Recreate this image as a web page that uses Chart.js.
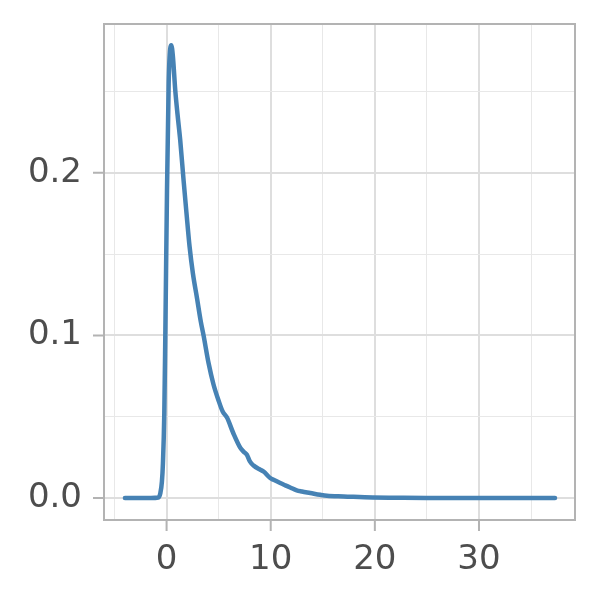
<!DOCTYPE html>
<html>
<head>
<meta charset="utf-8">
<script src="https://cdn.jsdelivr.net/npm/chart.js@4"></script>
<style>
  html, body { margin: 0; padding: 0; background: #ffffff; }
  #wrap { width: 600px; height: 600px; }
</style>
</head>
<body>
<div id="wrap"><canvas id="c" width="600" height="600"></canvas></div>
<script>
// Data
const xValues = [-4, -1.5, -0.8, -0.6, -0.45, -0.35, -0.22, -0.12, 0.04, 0.2, 0.35, 0.45, 0.6, 0.83, 1.05, 1.31, 1.63, 1.9, 2.21, 2.53, 2.92, 3.3, 3.55, 4.03, 4.5, 4.99, 5.4, 5.8, 6.4, 7.07, 7.4, 7.71, 8.0, 8.35, 9.0, 9.31, 9.95, 10.27, 10.91, 11.4, 11.87, 12.5, 13.0, 13.8, 14.75, 15.4, 17, 19.8, 22, 25, 30, 37.3];
const yValues = [0, 0, 0.0003, 0.003, 0.010, 0.0215, 0.052, 0.101, 0.189, 0.255, 0.2765, 0.2785, 0.272, 0.251, 0.236, 0.220, 0.1955, 0.176, 0.1545, 0.138, 0.123, 0.108, 0.100, 0.083, 0.070, 0.060, 0.053, 0.0495, 0.040, 0.031, 0.0285, 0.0266, 0.0225, 0.020, 0.0174, 0.0163, 0.0123, 0.0112, 0.0092, 0.0078, 0.0065, 0.0047, 0.004, 0.0031, 0.002, 0.0014, 0.001, 0.0003, 0.0002, 0.0001, 0.00005, 0];
const xTickValues = [-5, 0, 5, 10, 15, 20, 25, 30, 35];
const xMajorTicks = [0, 10, 20, 30];
const yTickValues = [0, 0.05, 0.1, 0.15, 0.2, 0.25];
const yMajorTicks = [0, 0.1, 0.2];
const yTickLabels = ['0.0', '0.1', '0.2'];

const points = xValues.map((x, i) => ({ x: x, y: yValues[i] }));

const isMajor = (v, majors) => majors.some(m => Math.abs(m - v) < 1e-9);

const frame = {
  id: 'frame',
  afterDraw(chart) {
    const ctx = chart.ctx;
    const a = chart.chartArea;
    const xs = chart.scales.x, ys = chart.scales.y;
    ctx.save();
    ctx.strokeStyle = '#b3b3b3';
    ctx.lineWidth = 2;
    ctx.strokeRect(a.left, a.top, a.right - a.left, a.bottom - a.top);
    ctx.beginPath();
    xMajorTicks.forEach(v => {
      const px = xs.getPixelForValue(v);
      ctx.moveTo(px, a.bottom);
      ctx.lineTo(px, a.bottom + 11);
    });
    yMajorTicks.forEach(v => {
      const py = ys.getPixelForValue(v);
      ctx.moveTo(a.left, py);
      ctx.lineTo(a.left - 11, py);
    });
    ctx.stroke();
    ctx.restore();
  }
};

new Chart(document.getElementById('c'), {
  type: 'line',
  data: {
    datasets: [{
      data: points,
      borderColor: '#4682b4',
      borderWidth: 4.5,
      pointRadius: 0,
      fill: false,
      cubicInterpolationMode: 'monotone',
      borderCapStyle: 'round',
      borderJoinStyle: 'round'
    }]
  },
  options: {
    responsive: false,
    animation: false,
    devicePixelRatio: 1,
    layout: { padding: { top: 24, right: 25, left: 0, bottom: 0 } },
    plugins: { legend: { display: false }, tooltip: { enabled: false } },
    scales: {
      x: {
        type: 'linear',
        min: -6.01,
        max: 39.22,
        afterFit(s) { s.height = 80; s.paddingLeft = 0; s.paddingRight = 0; },
        afterBuildTicks(s) { s.ticks = xTickValues.map(v => ({ value: v })); },
        border: { display: false },
        grid: {
          drawTicks: false,
          color: ctx => isMajor(ctx.tick.value, xMajorTicks) ? '#dedede' : '#e8e8e8',
          lineWidth: ctx => isMajor(ctx.tick.value, xMajorTicks) ? 2 : 1
        },
        ticks: {
          autoSkip: false,
          maxRotation: 0,
          padding: 20,
          color: '#4d4d4d',
          font: { family: 'DejaVu Sans', size: 34 },
          callback: v => isMajor(v, xMajorTicks) ? String(v) : ''
        }
      },
      y: {
        type: 'linear',
        min: -0.0135,
        max: 0.2915,
        afterFit(s) { s.width = 104; s.paddingTop = 0; s.paddingBottom = 0; },
        afterBuildTicks(s) { s.ticks = yTickValues.map(v => ({ value: v })); },
        border: { display: false },
        grid: {
          drawTicks: false,
          color: ctx => isMajor(ctx.tick.value, yMajorTicks) ? '#dedede' : '#e8e8e8',
          lineWidth: ctx => isMajor(ctx.tick.value, yMajorTicks) ? 2 : 1
        },
        ticks: {
          autoSkip: false,
          padding: 22,
          color: '#4d4d4d',
          font: { family: 'DejaVu Sans', size: 34 },
          callback: v => {
            const i = yMajorTicks.findIndex(m => Math.abs(m - v) < 1e-9);
            return i >= 0 ? yTickLabels[i] : '';
          }
        }
      }
    }
  },
  plugins: [frame]
});
</script>
</body>
</html>
